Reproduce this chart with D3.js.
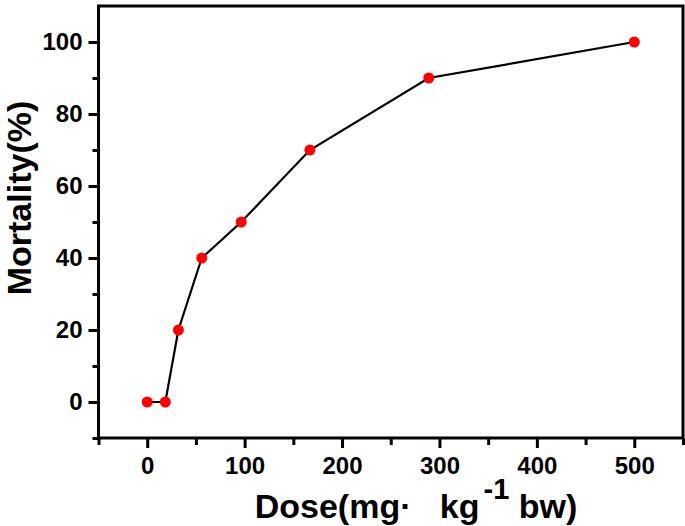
<!DOCTYPE html>
<html><head><meta charset="utf-8">
<script src="https://cdn.jsdelivr.net/npm/d3@7"></script>
<style>body{margin:0;background:#fff}svg{display:block}text{font-family:"Liberation Sans",Arial,sans-serif;font-weight:bold}</style>
</head><body>
<svg id="c" width="685" height="526"></svg>
<script>
const dose = [0, 18.6, 32, 56, 96.5, 167, 289, 500];
const mortality = [0, 0, 20, 40, 50, 70, 90, 100];
const xMajor = [0, 100, 200, 300, 400, 500];
const xMinor = [-50, 50, 150, 250, 350, 450, 550];
const yMajor = [0, 20, 40, 60, 80, 100];
const yMinor = [-10, 10, 30, 50, 70, 90];

const svg = d3.select("#c");
const L = 98.5, R = 683, T = 6, B = 438;
const x = d3.scaleLinear().domain([-50, 550]).range([L, R]);
const y = d3.scaleLinear().domain([-10, 110]).range([B, T]);

function styleAxis(g){
  g.select(".domain").remove();
  g.selectAll("line").attr("stroke","#000").attr("stroke-width",3);
}
// x axis
svg.append("g").attr("transform",`translate(0,${B})`)
  .call(d3.axisBottom(x).tickValues(xMinor).tickSize(7).tickFormat(""))
  .call(styleAxis);
svg.append("g").attr("transform",`translate(0,${B})`)
  .call(d3.axisBottom(x).tickValues(xMajor).tickSize(10).tickPadding(9).tickFormat(d3.format("d")))
  .call(styleAxis)
  .selectAll("text").attr("font-size",24).attr("fill","#000");
// y axis
svg.append("g").attr("transform",`translate(${L},0)`)
  .call(d3.axisLeft(y).tickValues(yMinor).tickSize(6).tickFormat(""))
  .call(styleAxis);
svg.append("g").attr("transform",`translate(${L},0)`)
  .call(d3.axisLeft(y).tickValues(yMajor).tickSize(10).tickPadding(6).tickFormat(d3.format("d")))
  .call(styleAxis)
  .selectAll("text").attr("font-size",24).attr("fill","#000");

// frame
svg.append("rect").attr("x",L).attr("y",T).attr("width",R-L).attr("height",B-T)
  .attr("fill","none").attr("stroke","#000").attr("stroke-width",3);

const pts = dose.map((d,i)=>[d, mortality[i]]);
svg.append("path").datum(pts)
  .attr("d", d3.line().x(d=>x(d[0])).y(d=>y(d[1])))
  .attr("fill","none").attr("stroke","#000").attr("stroke-width",2.2);
svg.selectAll("circle.p").data(pts).join("circle")
  .attr("cx",d=>x(d[0])).attr("cy",d=>y(d[1])).attr("r",5.5).attr("fill","#ff0000");

// titles
const xt = svg.append("text").attr("x",416).attr("y",518).attr("text-anchor","middle")
  .attr("font-size",34).attr("fill","#000");
xt.append("tspan").text("Dose(mg\u00B7\u00A0\u00A0\u00A0kg");
xt.append("tspan").attr("font-size",29).attr("dx",4).attr("dy",-19).text("-1");
xt.append("tspan").attr("dy",19).text(" bw)");

svg.append("text").attr("transform","translate(31,198) rotate(-90)").attr("text-anchor","middle")
  .attr("font-size",34).attr("fill","#000").text("Mortality(%)");
</script>
</body></html>
